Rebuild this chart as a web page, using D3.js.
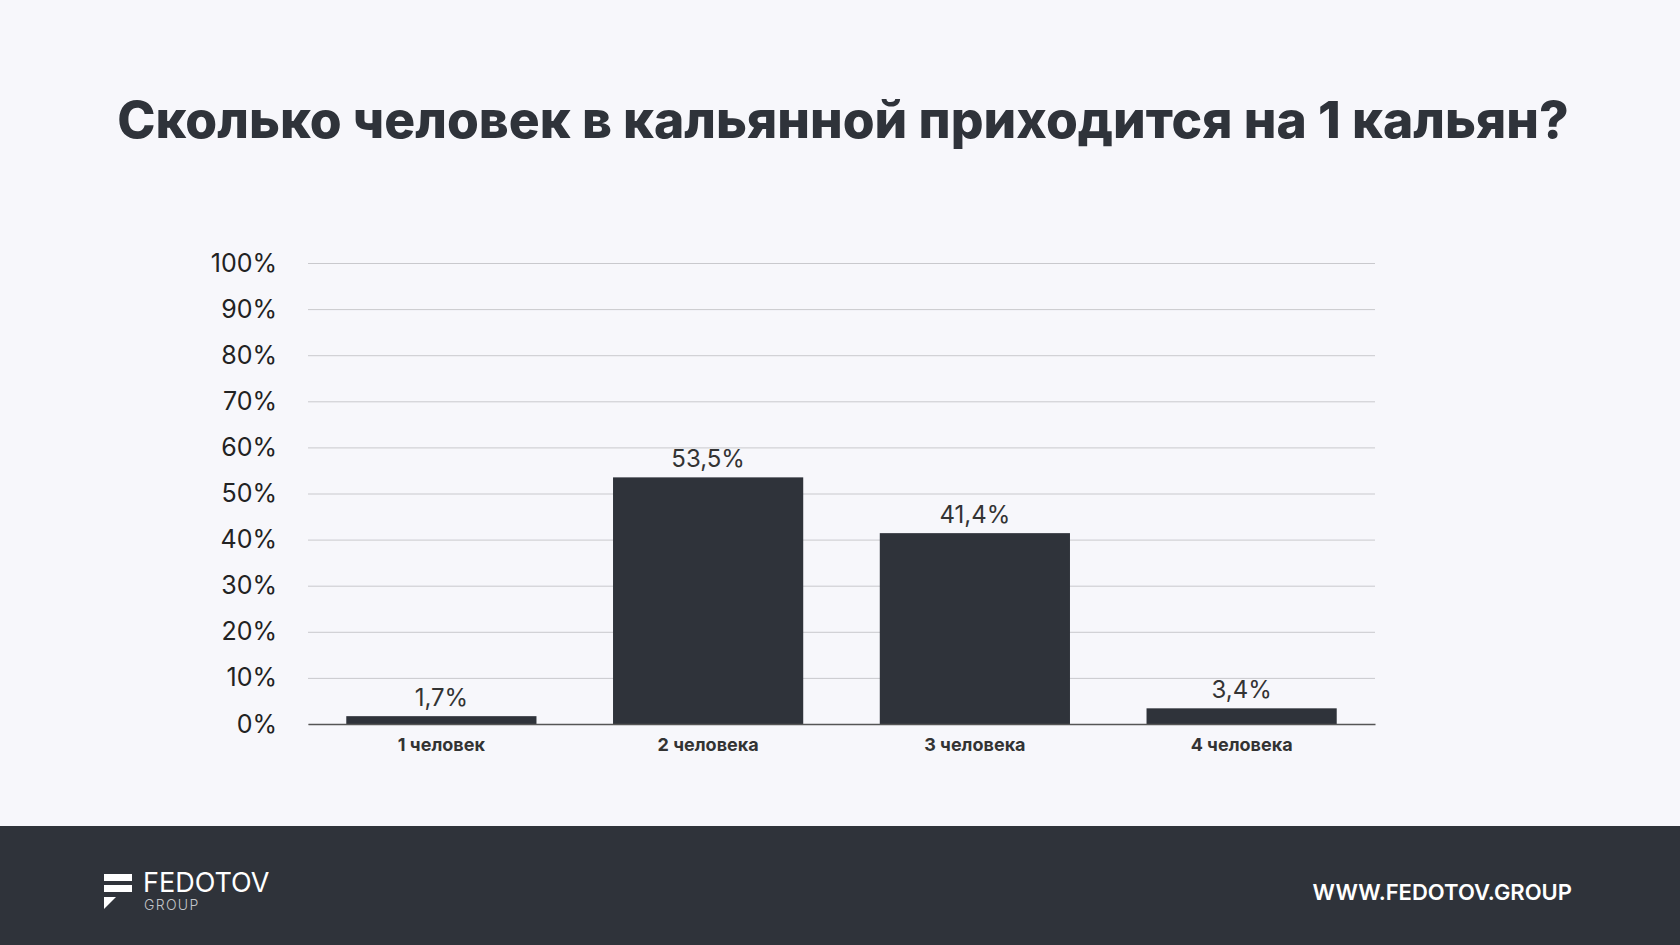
<!DOCTYPE html>
<html>
<head>
<meta charset="utf-8">
<script src="https://cdn.jsdelivr.net/npm/d3@7"></script>
<style>
  html, body { margin: 0; padding: 0; background: #f7f7fb; }
  svg { display: block; font-family: Inter, "Open Sans", sans-serif; }
</style>
</head>
<body>
<svg id="chart" width="1680" height="945"></svg>
<script>
const title = 'Сколько человек в кальянной приходится на 1 кальян?';
const categories = ['1 человек', '2 человека', '3 человека', '4 человека'];
const shares = [1.7, 53.5, 41.4, 3.4];
const yTicks = [0, 10, 20, 30, 40, 50, 60, 70, 80, 90, 100];

const W = 1680, H = 945;
const dark = '#2f333a';
const margin = { top: 263, right: 305, bottom: 221, left: 308 };
const innerW = W - margin.left - margin.right;
const innerH = H - margin.top - margin.bottom;

const svg = d3.select('#chart');
svg.append('rect').attr('width', W).attr('height', H).attr('fill', '#f7f7fb');

// title
svg.append('text')
  .attr('x', 843).attr('y', 138)
  .attr('text-anchor', 'middle')
  .attr('font-size', 51.5).attr('font-weight', 800)
  .attr('fill', dark)
  .text(title);

const g = svg.append('g').attr('transform', `translate(${margin.left},${margin.top})`);

const x = d3.scaleBand().domain(categories).range([0, innerW]).paddingInner(0.287).paddingOuter(0.1435);
const y = d3.scaleLinear().domain([0, 100]).range([innerH, 0]);

// grid
g.append('g')
  .call(d3.axisLeft(y).tickValues(yTicks).tickSize(-innerW).tickFormat(() => ''))
  .call((grid) => {
    grid.select('.domain').remove();
    grid.selectAll('.tick line').attr('stroke', '#c9c9cd').attr('stroke-width', 1);
  });

// y labels
g.append('g')
  .call(d3.axisLeft(y).tickValues(yTicks).tickSize(0).tickPadding(31).tickFormat((d) => d + '%'))
  .call((axis) => {
    axis.select('.domain').remove();
    axis.selectAll('.tick text')
      .attr('fill', '#222')
      .attr('font-size', 25)
      .attr('font-family', 'Inter, sans-serif');
  });

// bars
g.selectAll('rect.bar')
  .data(shares)
  .join('rect')
  .attr('class', 'bar')
  .attr('x', (d, i) => x(categories[i]))
  .attr('width', x.bandwidth())
  .attr('y', (d) => y(d))
  .attr('height', (d) => innerH - y(d))
  .attr('fill', dark);

// value labels
g.selectAll('text.val')
  .data(shares)
  .join('text')
  .attr('class', 'val')
  .attr('x', (d, i) => x(categories[i]) + x.bandwidth() / 2)
  .attr('y', (d) => y(d) - 10)
  .attr('text-anchor', 'middle')
  .attr('font-size', 24)
  .attr('fill', '#333')
  .text((d) => d.toFixed(1).replace('.', ',') + '%');

// x axis
g.append('g')
  .attr('transform', `translate(0,${innerH})`)
  .call(d3.axisBottom(x).tickSize(0).tickPadding(14.5))
  .call((axis) => {
    axis.select('.domain').attr('stroke', '#555').attr('stroke-width', 1.5);
    axis.selectAll('.tick text')
      .attr('fill', '#333')
      .attr('font-size', 18)
      .attr('font-weight', 700)
      .attr('font-family', 'Inter, sans-serif');
  });

// footer
const footer = svg.append('g').attr('transform', 'translate(0,826)');
footer.append('rect').attr('width', W).attr('height', H - 826).attr('fill', dark);

const logo = footer.append('g').attr('transform', 'translate(104,48)');
logo.append('rect').attr('x', 0).attr('y', 0).attr('width', 28).attr('height', 7).attr('fill', '#fff');
logo.append('rect').attr('x', 0).attr('y', 11).attr('width', 28).attr('height', 7).attr('fill', '#fff');
logo.append('path').attr('d', 'M0,23 L12,23 L0,35 Z').attr('fill', '#fff');

footer.append('text')
  .attr('x', 143).attr('y', 66)
  .attr('font-size', 27).attr('font-weight', 400)
  .attr('fill', '#fff')
  .text('FEDOTOV');
footer.append('text')
  .attr('x', 144).attr('y', 84)
  .attr('font-size', 14).attr('font-weight', 300)
  .attr('fill', '#c4c6ca')
  .attr('letter-spacing', 1.3)
  .text('GROUP');

footer.append('text')
  .attr('x', 1572).attr('y', 74)
  .attr('text-anchor', 'end')
  .attr('font-size', 22).attr('font-weight', 600)
  .attr('fill', '#fff')
  .text('WWW.FEDOTOV.GROUP');
</script>
</body>
</html>
